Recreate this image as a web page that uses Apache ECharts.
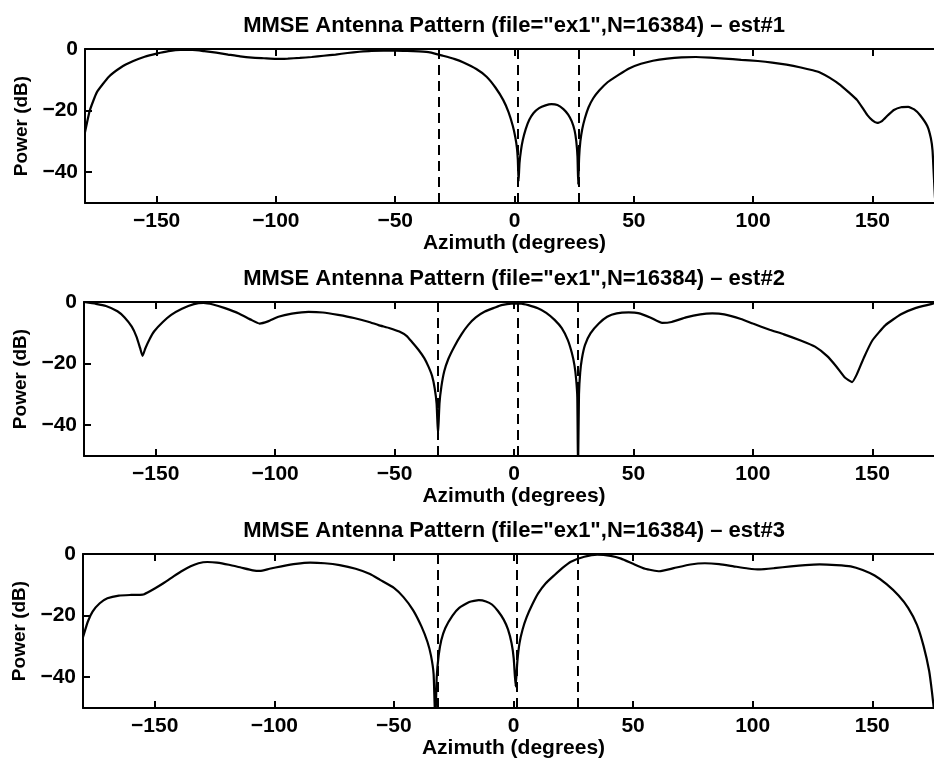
<!DOCTYPE html>
<html>
<head>
<meta charset="utf-8">
<script src="https://cdn.jsdelivr.net/npm/echarts@6/dist/echarts.min.js"></script>
<style>html,body{margin:0;padding:0;background:#fff;overflow:hidden;width:934px;height:767px}#c{width:960px;height:767px}</style>
</head>
<body>
<div id="c"></div>
<script>
const titles = [
  'MMSE Antenna Pattern (file="ex1",N=16384) \u2013 est#1',
  'MMSE Antenna Pattern (file="ex1",N=16384) \u2013 est#2',
  'MMSE Antenna Pattern (file="ex1",N=16384) \u2013 est#3'
];
const xTicks = [-150, -100, -50, 0, 50, 100, 150];
const yTicks = [-40, -20, 0];
const nullDirs = [-31.8, 1.5, 26.8];

const az1 = [-180,-178,-175,-170,-165,-160,-155,-150,-145,-140,-135,-130,-125,-120,-115,-110,-105,-100,-95,-90,-85,-80,-75,-70,-65,-60,-55,-50,-45,-40,-35.5,-30,-25,-21.6,-16,-11.7,-8,-4.7,-2.5,-0.7,0.3,1,1.4,1.7,2.1,2.7,3.5,4.7,6.2,8,10.3,13,15.5,18,20.5,22.5,24,25.2,25.9,26.4,26.7,27.1,27.6,28.4,29.5,31,33,35.5,39,43.6,48,53,58,64,70,76,82,88,95,102,108,114,120,125,128,132,136.6,140,143.6,146,147.8,150,152,154,156.5,159,162,165,167.5,170,173,174.5,175.2,175.6,176.2,177];
const pw1 = [-27,-20,-14,-9,-6,-4,-2.5,-1.5,-0.7,-0.3,-0.3,-0.7,-1.2,-1.8,-2.4,-2.8,-3,-3.2,-3.1,-2.9,-2.6,-2.2,-1.8,-1.3,-0.9,-0.6,-0.5,-0.5,-0.6,-0.8,-1.1,-2.2,-3.3,-4.3,-6.5,-9,-12.5,-16.6,-20.5,-25,-28.5,-32,-36,-43,-37,-33,-29.5,-26,-23,-20.8,-19.2,-18.3,-17.9,-18.2,-19.5,-21.3,-23.5,-26.5,-30,-35,-44,-35,-30,-26,-22.5,-19,-16,-13.5,-10.8,-8.4,-6.3,-4.8,-3.8,-3.1,-2.7,-2.6,-2.8,-3.1,-3.5,-3.9,-4.4,-5.1,-6,-6.9,-7.6,-9.3,-11.7,-14,-16.6,-19.3,-21.4,-23.2,-24,-23.4,-21.5,-19.8,-18.9,-18.8,-19.6,-21.5,-25,-29,-33,-39,-48,-55];

const az2 = [-180,-175,-170.8,-166,-163,-160,-158,-156.5,-155.5,-154.3,-152.5,-150.6,-147,-143.5,-139,-134,-130,-126,-121,-115,-110,-106.5,-103,-98.6,-93,-86,-80,-73.6,-67,-61,-56.7,-52,-48,-45,-42.8,-40,-37.5,-35.8,-34.3,-33.2,-32.4,-31.8,-31.2,-30.4,-29.2,-27.5,-25,-22,-19.2,-16,-12.2,-8,-5.3,-1.1,3,6,10,13.5,17,20,22.5,24.2,25.3,26,26.5,26.8,27.2,27.7,28.4,29.7,32,35.5,39,43,48,52,57,62,66,72,78,83,88,95,100,107,113,120,126,131,135,138.5,141.5,143.5,146.5,150,155.5,162,168,175,180];
const pw2 = [0,-0.6,-1.3,-3,-5,-8,-11.3,-15,-17.5,-15,-12,-9.5,-6.5,-4.2,-2.2,-0.7,-0.3,-0.8,-2,-3.8,-5.8,-7,-6.3,-4.8,-3.8,-3.2,-3.4,-4.2,-5.2,-6.4,-7.5,-8.5,-9.6,-11,-12.9,-15.5,-18.3,-21,-24,-28,-33,-43,-33,-27.5,-22.5,-18.5,-14.5,-10.5,-7.5,-5,-3.1,-1.8,-1,-0.5,-0.5,-1,-2,-3.5,-5.8,-8.5,-12.3,-16.5,-20.5,-25,-31,-55,-30,-23,-18.5,-14,-10.2,-7,-4.8,-3.7,-3.4,-3.6,-5,-6.8,-6.5,-5,-4,-3.7,-4,-5.5,-7,-9,-10.5,-12.5,-14.5,-17.5,-21,-24.5,-26,-23.5,-18,-12.5,-7.5,-4,-2,-0.6,0];

const az3 = [-180,-178,-176,-173,-169.8,-165,-160,-155,-153,-150,-146.4,-142,-139,-135,-131.7,-128,-124,-119,-114,-109,-106,-102,-97,-91,-85,-79,-72.7,-66,-60,-55.8,-50,-46,-42,-38.5,-36,-34.5,-33.4,-32.7,-32.1,-31.3,-30.2,-28.5,-25.5,-22.7,-18.5,-14.5,-11.5,-9,-6.5,-4.1,-2.3,-0.8,0.1,0.9,1.6,2.5,3.8,5.5,7.8,10.3,13.5,17.2,20.5,24,29.6,35,40.6,45,50,55,61,67,74,80,86,92,98,103,109,116,122,128,135,141,146,151,156,161,165,168.7,171.5,173.8,175,176];
const pw3 = [-27,-22,-18.7,-16,-14.4,-13.5,-13.3,-13.2,-12.5,-11.2,-9.5,-7.2,-5.7,-4,-3,-2.6,-2.8,-3.5,-4.4,-5.3,-5.5,-4.8,-4,-3.2,-2.8,-3,-3.6,-4.8,-6.5,-8.4,-11,-14,-18.2,-23.5,-28.5,-33,-39,-55,-40,-33,-28,-24,-20,-17.5,-15.6,-15,-15.4,-16.4,-18.5,-21.3,-24.5,-29,-34,-43,-35,-29,-24.5,-20.5,-16.5,-12.8,-9.5,-6.8,-4.5,-2.5,-0.9,-0.2,-0.6,-1.5,-3.2,-4.8,-5.6,-4.6,-3.4,-3,-3.3,-4,-4.7,-5,-4.6,-4,-3.6,-3.4,-3.6,-4,-5.2,-7,-9.8,-13.5,-17.5,-23,-30,-38,-45,-52];

const curves = [[az1, pw1], [az2, pw2], [az3, pw3]];
const gridTops = [49, 302, 554];
const gridLefts = [85, 84, 83];
const FONT = '"Liberation Sans", Arial, Helvetica, sans-serif';
const minusFmt = v => String(v).replace('-', '\u2212');

const grids = [], xAxes = [], yAxes = [], series = [], graphics = [];
for (let i = 0; i < 3; i++) {
  grids.push({ left: gridLefts[i], width: 944 - gridLefts[i], top: gridTops[i], height: 154 });
  const axLine = { show: true, onZero: false, lineStyle: { color: '#000', width: 2 } };
  const tick = len => ({ show: true, inside: true, length: len, lineStyle: { color: '#000', width: 2 } });
  xAxes.push({
    type: 'value', gridIndex: i, min: -180, max: 180, position: 'bottom',
    axisLine: axLine,
    axisTick: Object.assign(tick(7), { customValues: xTicks }),
    axisLabel: { show: true, customValues: xTicks, formatter: minusFmt, color: '#000', fontSize: 21, fontWeight: 'bold', fontFamily: FONT, margin: 8 },
    splitLine: { show: false },
    name: 'Azimuth (degrees)', nameLocation: 'middle', nameGap: 28,
    nameTextStyle: { color: '#000', fontSize: 21, fontWeight: 'bold', fontFamily: FONT }
  });
  xAxes.push({
    type: 'value', gridIndex: i, min: -180, max: 180, position: 'top',
    axisLine: axLine,
    axisTick: Object.assign(tick(7), { customValues: xTicks }),
    axisLabel: { show: false }, splitLine: { show: false }
  });
  yAxes.push({
    type: 'value', gridIndex: i, min: -50, max: 0, position: 'left',
    axisLine: axLine,
    axisTick: Object.assign(tick(7), { customValues: yTicks }),
    axisLabel: { show: true, customValues: yTicks, formatter: minusFmt, color: '#000', fontSize: 21, fontWeight: 'bold', fontFamily: FONT, margin: 7 },
    splitLine: { show: false },
    name: 'Power (dB)', nameLocation: 'middle', nameRotate: 90, nameGap: 52,
    nameTextStyle: { color: '#000', fontSize: 19, fontWeight: 'bold', fontFamily: FONT }
  });
  yAxes.push({
    type: 'value', gridIndex: i, min: -50, max: 0, position: 'right',
    axisLine: axLine,
    axisTick: Object.assign(tick(9), { customValues: yTicks }),
    axisLabel: { show: false }, splitLine: { show: false }
  });
  const [az, pw] = curves[i];
  series.push({
    type: 'line', xAxisIndex: 2 * i, yAxisIndex: 2 * i, showSymbol: false, symbol: 'none',
    smooth: 0.15, clip: true, silent: true, animation: false,
    lineStyle: { color: '#000', width: 2.2 },
    data: az.map((a, k) => [a, pw[k]]),
    markLine: {
      silent: true, symbol: ['none', 'none'], animation: false,
      label: { show: false },
      lineStyle: { color: '#000', width: 2, type: [10, 6] },
      data: nullDirs.map(d => ({ xAxis: d }))
    }
  });
  graphics.push({
    type: 'text', x: 514, y: gridTops[i] - 23,
    style: { text: titles[i], fill: '#000', font: 'bold 22px ' + FONT, align: 'center', verticalAlign: 'middle' }
  });
}

const chart = echarts.init(document.getElementById('c'), null, { renderer: 'canvas' });
chart.setOption({
  animation: false,
  grid: grids, xAxis: xAxes, yAxis: yAxes, series: series,
  graphic: graphics
});
</script>
</body>
</html>
